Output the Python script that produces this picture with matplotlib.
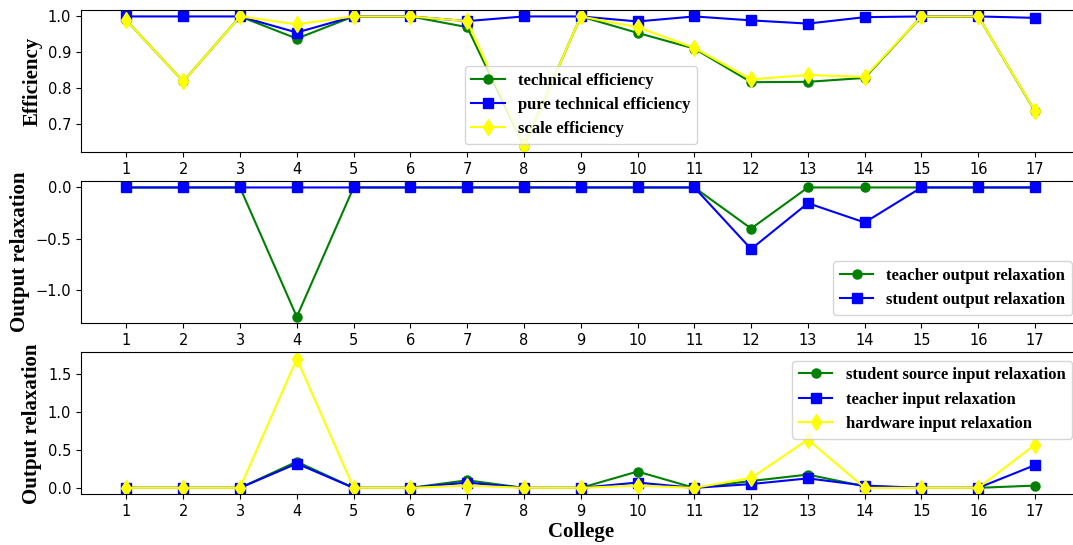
import matplotlib
matplotlib.use("Agg")
import matplotlib.pyplot as plt

colleges = list(range(1, 18))
tick_labels = [str(c) for c in colleges]

technical_eff = [0.989, 0.818, 1.0, 0.938, 1.0, 1.0, 0.970, 0.638, 1.0, 0.954, 0.910,
                 0.816, 0.817, 0.828, 1.0, 1.0, 0.734]
pure_tech_eff = [1.0, 1.0, 1.0, 0.955, 1.0, 1.0, 0.987, 1.0, 1.0, 0.986, 1.0,
                 0.989, 0.980, 0.998, 1.0, 1.0, 0.996]
scale_eff = [0.989, 0.818, 1.0, 0.978, 1.0, 1.0, 0.987, 0.638, 1.0, 0.970, 0.912,
             0.824, 0.836, 0.831, 1.0, 1.0, 0.735]

teacher_output = [0, 0, 0, -1.26, 0, 0, 0, 0, 0, 0, 0, -0.40, 0, 0, 0, 0, 0]
student_output = [0, 0, 0, 0, 0, 0, 0, 0, 0, 0, 0, -0.60, -0.153, -0.341, 0, 0, 0]

student_source_input = [0, 0, 0, 0.345, 0, 0, 0.10, 0, 0, 0.215, 0, 0.09, 0.175, 0.02, 0, 0, 0.03]
teacher_input = [0, 0, 0, 0.32, 0, 0, 0.07, 0, 0, 0.07, 0, 0.05, 0.125, 0.03, 0, 0, 0.30]
hardware_input = [0, 0, 0, 1.70, 0, 0, 0.03, 0, 0, 0.03, 0, 0.13, 0.636, 0, 0, 0, 0.57]

serif = ["Liberation Serif", "DejaVu Serif"]
lab_font = dict(family=serif, weight="bold", size=15)
leg_font = dict(family=serif, weight="bold", size=12)

fig = plt.figure(figsize=(10.73, 5.45), dpi=100)
left, width = 81 / 1073, 999.5 / 1073
ax1 = fig.add_axes([left, 0.7206, width, 0.2611])
ax2 = fig.add_axes([left, 0.4068, width, 0.2611])
ax3 = fig.add_axes([left, 0.0930, width, 0.2606])

lw, ms, msd = 1.5, 6.5, 8
ax1.plot(colleges, technical_eff, color="green", marker="o", lw=lw, ms=ms, label="technical efficiency")
ax1.plot(colleges, pure_tech_eff, color="blue", marker="s", lw=lw, ms=ms, label="pure technical efficiency")
ax1.plot(colleges, scale_eff, color="yellow", marker="d", lw=lw, ms=msd, label="scale efficiency")
ax1.set_ylabel("Efficiency", fontdict=lab_font)
ax1.legend(prop=leg_font, loc="lower center")

ax2.plot(colleges, teacher_output, color="green", marker="o", lw=lw, ms=ms, label="teacher output relaxation")
ax2.plot(colleges, student_output, color="blue", marker="s", lw=lw, ms=ms, label="student output relaxation")
ax2.set_ylabel("Output relaxation", fontdict=lab_font)
ax2.legend(prop=leg_font, loc="lower right")

ax3.plot(colleges, student_source_input, color="green", marker="o", lw=lw, ms=ms, label="student source input relaxation")
ax3.plot(colleges, teacher_input, color="blue", marker="s", lw=lw, ms=ms, label="teacher input relaxation")
ax3.plot(colleges, hardware_input, color="yellow", marker="d", lw=lw, ms=msd, label="hardware input relaxation")
ax3.set_ylabel("Output relaxation", fontdict=lab_font)
ax3.set_xlabel("College", fontdict=lab_font, labelpad=2)
ax3.legend(prop=leg_font, loc="upper right")

for ax in (ax1, ax2, ax3):
    ax.set_xticks(colleges)
    ax.set_xticklabels(tick_labels)
    ax.tick_params(labelsize=10.5)

fig.savefig("out.png", dpi=100)
